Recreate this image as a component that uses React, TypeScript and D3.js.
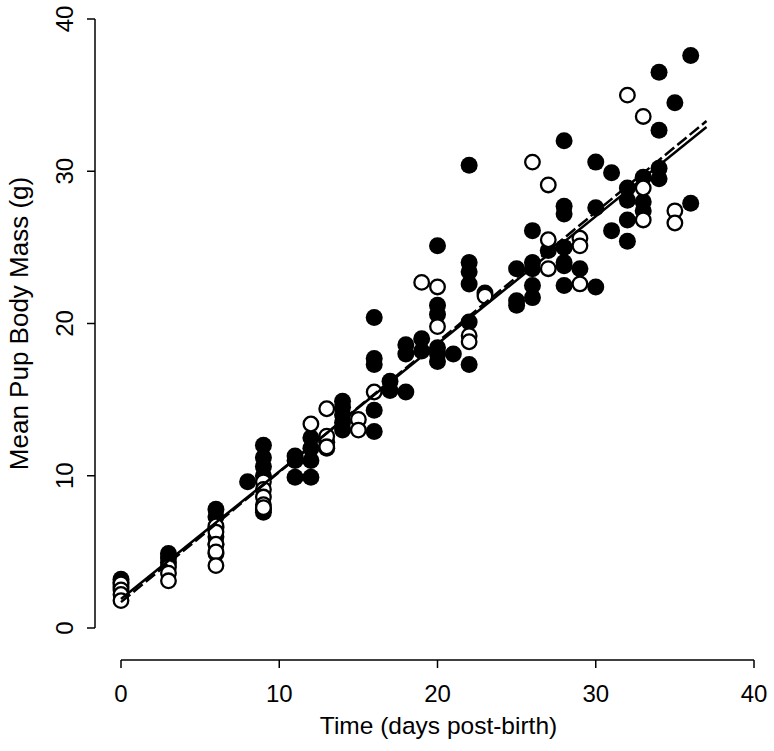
import React from "react";
import * as d3 from "d3";

const xTicks = [0, 10, 20, 30, 40];
const yTicks = [0, 10, 20, 30, 40];

const filledDays = [
  0, 0, 0,
  3, 3, 3,
  6, 6, 6, 6, 6, 6,
  8,
  9, 9, 9, 9, 9, 9,
  11, 11, 11,
  12, 12, 12, 12,
  13, 13,
  14, 14, 14, 14, 14,
  16, 16, 16, 16, 16,
  17, 17,
  18, 18, 18,
  19, 19,
  20, 20, 20, 20, 20, 20,
  21,
  22, 22, 22, 22, 22, 22,
  23,
  25, 25, 25,
  26, 26, 26, 26, 26,
  27,
  28, 28, 28, 28, 28, 28, 28,
  29,
  30, 30, 30,
  31, 31,
  32, 32, 32, 32,
  33, 33, 33,
  34, 34, 34, 34,
  35,
  36, 36,
];
const filledMass = [
  3.2, 3.0, 2.7,
  4.9, 4.6, 4.3,
  7.8, 7.3, 6.6, 6.0, 5.5, 4.9,
  9.6,
  12.0, 11.2, 10.6, 10.0, 7.8, 7.6,
  11.3, 11.0, 9.9,
  12.5, 11.8, 11.0, 9.9,
  12.2, 11.8,
  14.9, 14.5, 14.0, 13.5, 13.0,
  20.4, 17.7, 17.3, 14.3, 12.9,
  16.2, 15.6,
  18.6, 18.0, 15.5,
  19.0, 18.2,
  25.1, 21.2, 20.6, 18.4, 17.5, 18.0,
  18.0,
  30.4, 24.0, 23.4, 22.6, 20.1, 17.3,
  22.0,
  23.6, 21.5, 21.2,
  26.1, 24.0, 23.6, 22.5, 21.7,
  24.8,
  32.0, 27.7, 27.2, 25.0, 24.0, 23.8, 22.5,
  23.6,
  30.6, 27.6, 22.4,
  29.9, 26.1,
  28.9, 28.1, 26.8, 25.4,
  29.6, 28.0, 27.4,
  36.5, 32.7, 30.2, 29.5,
  34.5,
  37.6, 27.9,
];

const openDays = [
  0, 0, 0, 0,
  3, 3, 3,
  6, 6, 6, 6, 6,
  9, 9, 9, 9, 9,
  12,
  13, 13, 13,
  15, 15,
  16,
  19,
  20, 20,
  22, 22,
  23,
  26,
  27, 27, 27,
  29, 29, 29,
  32,
  33, 33, 33,
  35, 35,
];
const openMass = [
  2.9, 2.5, 2.2, 1.8,
  4.0, 3.6, 3.1,
  6.7, 6.3, 5.5, 5.0, 4.1,
  9.6, 9.1, 8.6, 8.1, 7.9,
  13.4,
  14.4, 12.6, 11.9,
  13.7, 13.0,
  15.5,
  22.7,
  22.4, 19.8,
  19.2, 18.8,
  21.8,
  30.6,
  29.1, 25.5, 23.6,
  25.6, 25.1, 22.6,
  35.0,
  33.6, 28.9, 26.8,
  27.4, 26.6,
];

// regression fits (intercept, slope) and range of days
const solidFit = [1.9, 0.838];
const dashedFit = [1.7, 0.854];
const fitRange = [0, 37];

export default function App() {
  const x = d3.scaleLinear().domain([0, 40]).range([121, 754]);
  const y = d3.scaleLinear().domain([0, 40]).range([628, 19]);
  const font = "'Liberation Sans', Arial, sans-serif";
  const fitPath = (fit: number[]) =>
    d3.line<number>().x((d) => x(d)).y((d) => y(fit[0] + fit[1] * d))(fitRange) || "";
  const r = 8.5;
  const axisY = 660;
  const axisX = 95;
  return (
    <svg
      width={774}
      height={751}
      style={{ position: "absolute", left: 0, top: 0, background: "#fff" }}
      fontFamily={font}
    >
      <rect width={774} height={751} fill="#fff" />
      {/* x axis */}
      <line x1={x(0)} x2={x(40)} y1={axisY} y2={axisY} stroke="#000" strokeWidth={1.5} />
      {xTicks.map((t) => (
        <g key={"xt" + t}>
          <line x1={x(t)} x2={x(t)} y1={axisY} y2={axisY + 8} stroke="#000" strokeWidth={1.5} />
          <text x={x(t)} y={axisY + 42} textAnchor="middle" fontSize={24}>
            {t}
          </text>
        </g>
      ))}
      <text x={(x(0) + x(40)) / 2 + 1} y={734} textAnchor="middle" fontSize={24.5}>
        Time (days post-birth)
      </text>
      {/* y axis */}
      <line x1={axisX} x2={axisX} y1={y(0)} y2={y(40)} stroke="#000" strokeWidth={1.5} />
      {yTicks.map((t) => (
        <g key={"yt" + t}>
          <line x1={axisX} x2={axisX - 8} y1={y(t)} y2={y(t)} stroke="#000" strokeWidth={1.5} />
          <text
            transform={`translate(${axisX - 22},${y(t)}) rotate(-90)`}
            textAnchor="middle"
            fontSize={24}
          >
            {t}
          </text>
        </g>
      ))}
      <text
        transform={`translate(28,${(y(0) + y(40)) / 2}) rotate(-90)`}
        textAnchor="middle"
        fontSize={26}
      >
        Mean Pup Body Mass (g)
      </text>
      {/* filled points */}
      {filledDays.map((d, i) => (
        <circle key={"f" + i} cx={x(d)} cy={y(filledMass[i])} r={r} fill="#000" />
      ))}
      {/* open points */}
      {openDays.map((d, i) => (
        <circle
          key={"o" + i}
          cx={x(d)}
          cy={y(openMass[i])}
          r={r - 1.2}
          fill="#fff"
          stroke="#000"
          strokeWidth={2.3}
        />
      ))}
      {/* fit lines */}
      <path d={fitPath(dashedFit)} fill="none" stroke="#000" strokeWidth={2.5} strokeDasharray="12,4" />
      <path d={fitPath(solidFit)} fill="none" stroke="#000" strokeWidth={2.5} />
    </svg>
  );
}
